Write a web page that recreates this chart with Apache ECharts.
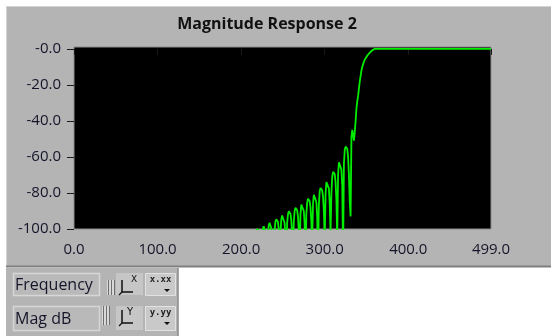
<!DOCTYPE html>
<html>
<head>
<meta charset="utf-8">
<script src="https://cdn.jsdelivr.net/npm/echarts@6/dist/echarts.min.js"></script>
<style>
html,body{margin:0;padding:0;background:#ffffff;}
#chart{width:551px;height:336px;}
</style>
</head>
<body>
<div id="chart"></div>
<script>
// ---- data ----
const chartTitle = 'Magnitude Response 2';
const xAxisName = 'Frequency';
const yAxisName = 'Mag dB';
const xTickValues = [0, 100, 200, 300, 400, 499];
const yTickValues = [0, -20, -40, -60, -80, -100];

const freqHz = [
  212,213,214,215,216,217,218,219,220,221,222,223,224,
  225,226,227,228,229,230,231,
  232,233,234,235,236,237,238,239,
  240,241,242,243,244,245,246,
  247,248,249,250,251,252,253,254,
  255,256,257,258,259,260,261,
  262,263,264,265,266,267,268,269,
  270,271,272,273,274,275,276,
  277,278,279,280,281,282,283,284,
  285,286,287,288,289,290,291,
  292,293,294,295,296,297,298,299,
  300,301,302,303,304,305,306,
  307,308,309,310,311,312,313,314,
  315,316,317,318,319,320,321,
  322,323,324,325,326,327,328,329,330,331,
  332,333,334,335,336,337,338,339,340,341,342,343,344,345,
  346,347,348,349,350,351,352,353,354,355,356,357,358,359,360,
  499
];
const magDb = [
  -125,-110,-104,-102,-108,-130,-106,-100,-99,-99.5,-101,-106,-118,
  -106,-100,-98.5,-98,-99,-103,-115,
  -104,-98,-96.5,-96.3,-97.5,-101,-109,-125,
  -101,-96,-94.6,-94.5,-96,-100,-112,
  -103,-95,-92.5,-92,-93,-96.5,-104,-130,
  -97,-92,-90.2,-90,-91.5,-95,-102,
  -120,-96,-90,-88.2,-88,-89.5,-93,-101,
  -110,-92,-86.5,-85.5,-86.5,-90,-97,
  -125,-92,-85.5,-83.2,-83,-84.5,-88,-96,
  -108,-86,-81,-80.3,-81.5,-85,-93,
  -118,-87,-79,-77.2,-77,-78.5,-82,-90,
  -106,-81,-74,-73,-74,-77.5,-86,
  -102,-80,-71,-68.3,-68,-69.5,-74,-84,
  -105,-70,-63,-62,-63,-67,-76,
  -115,-64,-56,-54.3,-54,-55.5,-60,-70,-85,-93,
  -49,-45,-46,-51,-46,-40,-33,-29,-26,-22,-18,-15,-12,-10,
  -8.5,-7,-6,-5.2,-4.4,-3.7,-3.1,-2.6,-2.1,-1.7,-1.2,-0.8,-0.5,-0.2,0,
  0
];

const seriesData = freqHz.map((f, i) => [f, magDb[i]]);

const PANEL = '#b4b4b4';
const TXT = '#15152a';
const FONT = 'Open Sans';

const chart = echarts.init(document.getElementById('chart'), null, {renderer: 'canvas'});

const graphics = [
  // main panel
  {type:'rect', z:-5, shape:{x:6, y:6, width:545, height:261}, style:{fill:PANEL}},
  {type:'line', z:-4, shape:{x1:6, y1:6.5, x2:551, y2:6.5}, style:{stroke:'#d4d4d4', lineWidth:1}},
  {type:'line', z:-4, shape:{x1:6.5, y1:6, x2:6.5, y2:267}, style:{stroke:'#d4d4d4', lineWidth:1}},
  {type:'line', z:-4, shape:{x1:6, y1:266.5, x2:551, y2:266.5}, style:{stroke:'#7e7e7e', lineWidth:2}},
  // title
  {type:'text', z:5, style:{text:chartTitle, x:267, y:24, align:'center', verticalAlign:'middle',
    font:'bold 16px "' + FONT + '"', fill:'#111'}},
  // legend panel
  {type:'rect', z:-5, shape:{x:6, y:268, width:172, height:68}, style:{fill:PANEL}},
  {type:'line', z:-4, shape:{x1:178, y1:268, x2:178, y2:336}, style:{stroke:'#8a8a8a', lineWidth:1.5}},
  // field 1
  {type:'rect', z:1, shape:{x:13.5, y:273.5, width:86, height:22}, style:{fill:'#b9b9b9', stroke:'#d6d6d6', lineWidth:1.5}},
  {type:'text', z:2, style:{text:xAxisName, x:15, y:285, verticalAlign:'middle', font:'16px "' + FONT + '"', fill:TXT}},
  // field 2
  {type:'rect', z:1, shape:{x:13.5, y:306.5, width:86, height:24}, style:{fill:'#b9b9b9', stroke:'#d6d6d6', lineWidth:1.5}},
  {type:'text', z:2, style:{text:yAxisName, x:15, y:319, verticalAlign:'middle', font:'16px "' + FONT + '"', fill:TXT}},
  // grips
  {type:'rect', z:1, shape:{x:107, y:280, width:8, height:15}, style:{fill:'#d8d8d8'}},
  {type:'line', z:2, shape:{x1:108.5, y1:280, x2:108.5, y2:295}, style:{stroke:'#6e6e6e', lineWidth:1}},
  {type:'line', z:2, shape:{x1:111.5, y1:280, x2:111.5, y2:295}, style:{stroke:'#6e6e6e', lineWidth:1}},
  {type:'line', z:2, shape:{x1:114.5, y1:280, x2:114.5, y2:295}, style:{stroke:'#6e6e6e', lineWidth:1}},
  {type:'rect', z:1, shape:{x:102, y:306, width:8, height:19}, style:{fill:'#d8d8d8'}},
  {type:'line', z:2, shape:{x1:103.5, y1:306, x2:103.5, y2:325}, style:{stroke:'#6e6e6e', lineWidth:1}},
  {type:'line', z:2, shape:{x1:106.5, y1:306, x2:106.5, y2:325}, style:{stroke:'#6e6e6e', lineWidth:1}},
  {type:'line', z:2, shape:{x1:109.5, y1:306, x2:109.5, y2:325}, style:{stroke:'#6e6e6e', lineWidth:1}},
  // X axis button
  {type:'rect', z:1, shape:{x:116, y:273, width:27, height:22}, style:{fill:'#c6c6c6'}},
  {type:'polyline', z:2, shape:{points:[[122,280],[122,292],[133,292]]}, style:{stroke:'#111', lineWidth:1.5, fill:null}},
  {type:'line', z:2, shape:{x1:119, y1:295, x2:122, y2:292}, style:{stroke:'#111', lineWidth:1.2}},
  {type:'text', z:2, style:{text:'X', x:134, y:280, align:'center', verticalAlign:'middle', font:'9px "DejaVu Sans"', fill:'#111'}},
  // x format button
  {type:'rect', z:1, shape:{x:145.5, y:273.5, width:30, height:22}, style:{fill:'#c9c9c9', stroke:'#e2e2e2', lineWidth:1}},
  {type:'text', z:2, style:{text:'x.xx', x:160.5, y:280, align:'center', verticalAlign:'middle', font:'bold 9px "DejaVu Sans Mono"', fill:'#222'}},
  {type:'polygon', z:2, shape:{points:[[164,289],[170,289],[167,292]]}, style:{fill:'#111'}},
  // Y axis button
  {type:'rect', z:1, shape:{x:116, y:306, width:27, height:24}, style:{fill:'#c6c6c6'}},
  {type:'polyline', z:2, shape:{points:[[122,310],[122,323],[133,323]]}, style:{stroke:'#111', lineWidth:1.5, fill:null}},
  {type:'line', z:2, shape:{x1:119, y1:326, x2:122, y2:323}, style:{stroke:'#111', lineWidth:1.2}},
  {type:'text', z:2, style:{text:'Y', x:130, y:312, align:'center', verticalAlign:'middle', font:'10px "DejaVu Sans"', fill:'#111'}},
  // y format button
  {type:'rect', z:1, shape:{x:145.5, y:306.5, width:30, height:24}, style:{fill:'#c9c9c9', stroke:'#e2e2e2', lineWidth:1}},
  {type:'text', z:2, style:{text:'y.yy', x:160.5, y:313, align:'center', verticalAlign:'middle', font:'bold 9px "DejaVu Sans Mono"', fill:'#222'}},
  {type:'polygon', z:2, shape:{points:[[164,322],[170,322],[167,325]]}, style:{fill:'#111'}}
];

const option = {
  animation: false,
  backgroundColor: '#ffffff',
  graphic: graphics,
  grid: {
    left: 74, top: 47, width: 417, height: 182,
    show: true, backgroundColor: '#000000', borderColor: '#8c8c8c', borderWidth: 1
  },
  xAxis: {
    type: 'value', min: 0, max: 499, offset: 3,
    axisLine: {show: false},
    splitLine: {show: false},
    axisTick: {show: true, length: 6, lineStyle: {color: '#1a1a1a', width: 1}, customValues: xTickValues},
    axisLabel: {customValues: xTickValues, formatter: v => v.toFixed(1), fontSize: 15, fontFamily: FONT, color: TXT, margin: 10}
  },
  yAxis: {
    type: 'value', min: -100, max: 1, offset: 3,
    axisLine: {show: false},
    splitLine: {show: false},
    axisTick: {show: true, length: 7, lineStyle: {color: '#1a1a1a', width: 1}, customValues: yTickValues},
    axisLabel: {customValues: yTickValues, formatter: v => (v === 0 ? '-0.0' : v.toFixed(1)), fontSize: 15, fontFamily: FONT, color: TXT, margin: 10}
  },
  series: [{
    type: 'line',
    data: seriesData,
    showSymbol: false,
    clip: true,
    sampling: null,
    lineStyle: {color: '#00ee00', width: 1.8},
    z: 3
  }]
};
chart.setOption(option);
</script>
</body>
</html>
